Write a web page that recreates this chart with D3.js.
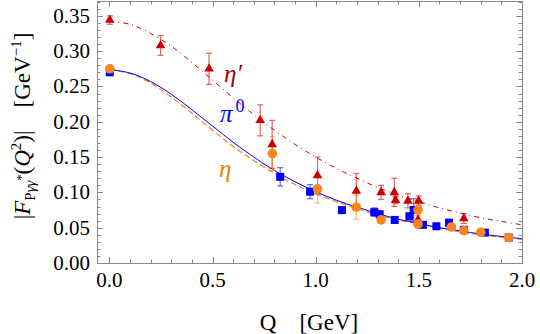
<!DOCTYPE html>
<html lang="en">
<head>
<meta charset="utf-8">
<title>Transition form factors</title>
<script src="https://d3js.org/d3.v7.min.js"></script>
<style>
  body { margin: 0; background: #fff; }
  text { font-family: "Liberation Serif", "DejaVu Serif", serif; }
</style>
</head>
<body>
<script>
// DATA
var qGrid = [0,0.1,0.2,0.3,0.4,0.5,0.6,0.7,0.8,0.9,1.0,1.1,1.2,1.3,1.4,1.5,1.6,1.7,1.8,1.9,2.0];
var curvePi0 = [0.274,0.269,0.257,0.239,0.217,0.194,0.171,0.150,0.131,0.115,0.101,0.089,0.079,0.070,0.062,0.056,0.050,0.0455,0.041,0.0376,0.0344];
var curveEta = [0.274,0.268,0.255,0.235,0.212,0.188,0.165,0.145,0.127,0.111,0.098,0.087,0.077,0.068,0.061,0.055,0.049,0.044,0.040,0.0365,0.0335];
var curveEtaP = [0.342,0.338,0.325,0.307,0.284,0.259,0.234,0.210,0.188,0.168,0.150,0.134,0.120,0.107,0.096,0.087,0.078,0.071,0.064,0.059,0.054];

var pi0Q   = [0.002,0.828,0.973,1.127,1.284,1.31,1.383,1.454,1.475,1.52,1.585,1.646,1.718,1.82,1.936];
var pi0F   = [0.270,0.122,0.101,0.075,0.072,0.069,0.061,0.066,0.075,0.054,0.052,0.057,0.047,0.043,0.036];
var pi0Err = [0.003,0.013,0.010,0.005,0.006,0.005,0.004,0.005,0.016,0.004,0.004,0.005,0.003,0.003,0.003];

var etaQ   = [0.002,0.790,1.009,1.197,1.317,1.496,1.496,1.658,1.718,1.80,1.936];
var etaF   = [0.275,0.155,0.105,0.079,0.061,0.075,0.055,0.051,0.046,0.0435,0.036];
var etaErr = [0.003,0.024,0.020,0.017,0.004,0.008,0.005,0.004,0.004,0.003,0.003];

var etapQ   = [0.002,0.248,0.483,0.731,0.789,1.009,1.197,1.317,1.381,1.387,1.447,1.499,1.496,1.718];
var etapF   = [0.344,0.308,0.275,0.202,0.168,0.124,0.102,0.100,0.100,0.089,0.088,0.088,0.061,0.063];
var etapErr = [0.006,0.014,0.022,0.022,0.034,0.026,0.025,0.010,0.020,0.005,0.010,0.007,0.010,0.007];

var yTicks = [0,0.05,0.10,0.15,0.20,0.25,0.30,0.35];
var xTicks = [0,0.5,1.0,1.5,2.0];

// SIZES
var w = 540, h = 334;
var mLeft = 97, mRight = 522, mTop = 1, mBottom = 263;
var frameColor = "#888";
var red = "#cc0000", blue = "#0000ff", orange = "#f7851e";

var svg = d3.select("body").append("svg")
  .attr("width", w).attr("height", h);

var x = d3.scaleLinear().domain([-0.06, 2.0]).range([mLeft, mRight]);
var y = d3.scaleLinear().domain([0, 0.371]).range([mBottom, mTop]);

// FRAME + TICKS
var xMinor = d3.range(0, 2.001, 0.1);
var yMinor = d3.range(0, 0.3701, 0.01);

function isMajor(v, step) { return Math.abs(v / step - Math.round(v / step)) < 1e-6; }

var tk = svg.append("g").attr("stroke", frameColor).attr("stroke-width", 1);
xMinor.forEach(function(v) {
  var len = isMajor(v, 0.5) ? 6 : 3.5;
  var px = Math.round(x(v)) + 0.5;
  tk.append("line").attr("x1", px).attr("x2", px).attr("y1", mBottom).attr("y2", mBottom - len);
  tk.append("line").attr("x1", px).attr("x2", px).attr("y1", mTop).attr("y2", mTop + len);
});
yMinor.forEach(function(v) {
  var len = isMajor(v, 0.05) ? 6 : 3.5;
  var py = Math.round(y(v)) + 0.5;
  tk.append("line").attr("x1", mLeft).attr("x2", mLeft + len).attr("y1", py).attr("y2", py);
  tk.append("line").attr("x1", mRight).attr("x2", mRight - len).attr("y1", py).attr("y2", py);
});
svg.append("rect")
  .attr("x", mLeft + 0.5).attr("y", mTop + 0.5)
  .attr("width", mRight - mLeft).attr("height", mBottom - mTop)
  .attr("fill", "none").attr("stroke", frameColor);

// TICK LABELS
svg.selectAll(".ylab").data(yTicks).enter().append("text")
  .attr("class", "ylab")
  .attr("x", mLeft - 7).attr("y", function(d) { return y(d) + 7; })
  .attr("text-anchor", "end").attr("font-size", "21px").attr("fill", "#000")
  .text(function(d) { return d3.format(".2f")(d); });

svg.selectAll(".xlab").data(xTicks).enter().append("text")
  .attr("class", "xlab")
  .attr("x", function(d) { return x(d); }).attr("y", mBottom + 24)
  .attr("text-anchor", "middle").attr("font-size", "21px").attr("fill", "#000")
  .text(function(d) { return d3.format(".1f")(d); });

// AXIS TITLES
svg.append("text")
  .attr("x", 309).attr("y", 330).attr("text-anchor", "middle")
  .attr("font-size", "23px")
  .text("Q\u2002\u2002[GeV]");

var yt = svg.append("text")
  .attr("transform", "translate(30,126) rotate(-90)")
  .attr("text-anchor", "middle").attr("font-size", "23px");
yt.append("tspan").text("|");
yt.append("tspan").attr("font-style", "italic").text("F");
yt.append("tspan").attr("font-size", "15px").attr("dy", 5).text("P");
yt.append("tspan").attr("font-size", "15px").attr("font-style", "italic").text("\u03b3\u03b3");
yt.append("tspan").attr("font-size", "12px").attr("dy", -10).text("*");
yt.append("tspan").attr("dy", 5).text("(");
yt.append("tspan").attr("font-style", "italic").text("Q");
yt.append("tspan").attr("font-size", "15px").attr("dy", -9).text("2");
yt.append("tspan").attr("dy", 9).text(")|\u2002\u2002[GeV");
yt.append("tspan").attr("font-size", "15px").attr("dy", -9).text("\u22121");
yt.append("tspan").attr("dy", 9).text("]");

// CURVES
var line = d3.line()
  .x(function(d) { return x(d[0]); })
  .y(function(d) { return y(d[1]); })
  .curve(d3.curveCatmullRom);

var plot = svg.append("g");
plot.append("path").datum(d3.zip(qGrid, curveEtaP)).attr("d", line)
  .attr("fill", "none").attr("stroke", red).attr("stroke-width", 1)
  .attr("stroke-dasharray", "5,4,1,4");
plot.append("path").datum(d3.zip(qGrid, curveEta)).attr("d", line)
  .attr("fill", "none").attr("stroke", orange).attr("stroke-width", 1.2)
  .attr("stroke-dasharray", "6,3");
plot.append("path").datum(d3.zip(qGrid, curvePi0)).attr("d", line)
  .attr("fill", "none").attr("stroke", blue).attr("stroke-width", 1);

// ERROR BARS
function errBars(qs, fs, es, color) {
  var g = plot.append("g").attr("stroke", color).attr("stroke-width", 1.2).attr("opacity", 0.6);
  qs.forEach(function(q, i) {
    var cx = x(q), y1 = y(fs[i] + es[i]), y2 = y(fs[i] - es[i]);
    g.append("line").attr("x1", cx).attr("x2", cx).attr("y1", y1).attr("y2", y2);
    g.append("line").attr("x1", cx - 3).attr("x2", cx + 3).attr("y1", y1).attr("y2", y1);
    g.append("line").attr("x1", cx - 3).attr("x2", cx + 3).attr("y1", y2).attr("y2", y2);
  });
}
errBars(pi0Q, pi0F, pi0Err, blue);
errBars(etapQ, etapF, etapErr, red);
errBars(etaQ, etaF, etaErr, orange);

// MARKERS
plot.append("g").selectAll("rect").data(d3.zip(pi0Q, pi0F)).enter().append("rect")
  .attr("x", function(d) { return x(d[0]) - 4; })
  .attr("y", function(d) { return y(d[1]) - 4; })
  .attr("width", 8).attr("height", 8).attr("fill", blue);

plot.append("g").selectAll("path").data(d3.zip(etapQ, etapF)).enter().append("path")
  .attr("d", d3.symbol().type(d3.symbolTriangle).size(40))
  .attr("transform", function(d) { return "translate(" + x(d[0]) + "," + y(d[1]) + ")"; })
  .attr("fill", red);

plot.append("g").selectAll("circle").data(d3.zip(etaQ, etaF)).enter().append("circle")
  .attr("cx", function(d) { return x(d[0]); })
  .attr("cy", function(d) { return y(d[1]); })
  .attr("r", 4.8).attr("fill", orange);

// CURVE LABELS
svg.append("text").attr("x", 224).attr("y", 82)
  .attr("font-size", "25px").attr("font-style", "italic").attr("fill", "#a80000")
  .text("\u03b7\u2032");
var pl = svg.append("text").attr("x", 220).attr("y", 122)
  .attr("font-size", "25px").attr("fill", blue);
pl.append("tspan").attr("font-style", "italic").text("\u03c0");
pl.append("tspan").attr("font-size", "18px").attr("dy", -10).attr("dx", 3).text("0");
svg.append("text").attr("x", 219).attr("y", 177)
  .attr("font-size", "25px").attr("font-style", "italic").attr("fill", "#e8820c")
  .text("\u03b7");
</script>
</body>
</html>
